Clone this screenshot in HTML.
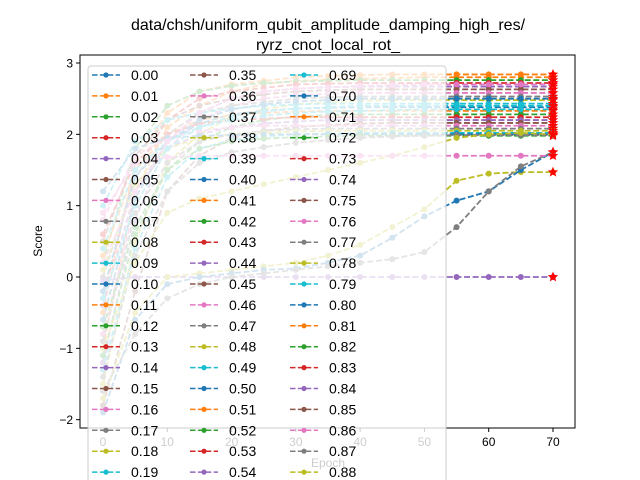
<!DOCTYPE html>
<html><head><meta charset="utf-8"><style>
body{margin:0;background:#fff;overflow:hidden}
svg{display:block;font-family:"Liberation Sans","DejaVu Sans",sans-serif}
</style></head><body>
<svg id="chart" width="640" height="480" viewBox="0 0 640 480">
<rect width="640" height="480" fill="#fff"/>
<text x="328" y="30" font-size="16" text-anchor="middle">data/chsh/uniform_qubit_amplitude_damping_high_res/</text>
<text x="328" y="50" font-size="16" text-anchor="middle">ryrz_cnot_local_rot_</text>
<g id="plot"></g>
<g id="axes"></g>
<g id="legend"></g>
</svg>
<script>
const epochs = [0,5,10,15,20,25,30,35,40,45,50,55,60,65,70];
const xTicks = [0,10,20,30,40,50,60,70];
const yTicks = [-2,-1,0,1,2,3];
const seriesValues = [
 [-0.5,1.6,2.3,2.6,2.7,2.75,2.8,2.82,2.83,2.84,2.84,2.84,2.84,2.84,2.84],
 [-1.0,1.2,2.1,2.4,2.6,2.7,2.75,2.77,2.78,2.79,2.8,2.8,2.8,2.8,2.8],
 [0.2,1.8,2.4,2.6,2.68,2.72,2.74,2.75,2.76,2.76,2.76,2.76,2.76,2.76,2.76],
 [-0.3,1.5,2.2,2.5,2.6,2.65,2.7,2.71,2.72,2.72,2.72,2.72,2.72,2.72,2.72],
 [-1.2,0.8,1.9,2.3,2.5,2.6,2.64,2.66,2.67,2.67,2.67,2.67,2.67,2.67,2.67],
 [0.5,1.7,2.2,2.4,2.5,2.56,2.6,2.62,2.63,2.63,2.63,2.63,2.63,2.63,2.63],
 [-0.8,1.0,1.8,2.2,2.4,2.5,2.55,2.57,2.58,2.58,2.58,2.58,2.58,2.58,2.58],
 [0.0,1.4,2.0,2.3,2.4,2.45,2.5,2.52,2.53,2.53,2.53,2.53,2.53,2.53,2.53],
 [-1.5,0.5,1.6,2.0,2.25,2.35,2.42,2.45,2.47,2.48,2.48,2.48,2.48,2.48,2.48],
 [1.0,1.9,2.2,2.3,2.36,2.4,2.42,2.43,2.43,2.43,2.43,2.43,2.43,2.43,2.43],
 [-0.6,1.1,1.9,2.15,2.28,2.33,2.36,2.37,2.38,2.38,2.38,2.38,2.38,2.38,2.38],
 [0.3,1.5,2.0,2.2,2.27,2.3,2.32,2.33,2.33,2.33,2.33,2.33,2.33,2.33,2.33],
 [-1.1,0.6,1.5,1.9,2.1,2.2,2.25,2.27,2.28,2.28,2.28,2.28,2.28,2.28,2.28],
 [0.6,1.6,2.0,2.15,2.2,2.22,2.24,2.24,2.24,2.24,2.24,2.24,2.24,2.24,2.24],
 [-0.4,1.2,1.8,2.0,2.1,2.15,2.18,2.2,2.2,2.2,2.2,2.2,2.2,2.2,2.2],
 [-1.8,-0.2,1.2,1.7,1.95,2.05,2.1,2.13,2.15,2.16,2.16,2.16,2.16,2.16,2.16],
 [0.8,1.7,1.95,2.05,2.1,2.12,2.12,2.12,2.12,2.12,2.12,2.12,2.12,2.12,2.12],
 [-0.9,0.9,1.6,1.9,2.0,2.05,2.07,2.08,2.08,2.08,2.08,2.08,2.08,2.08,2.08],
 [0.1,1.3,1.8,1.95,2.0,2.02,2.04,2.05,2.05,2.05,2.05,2.05,2.05,2.05,2.05],
 [-1.3,0.4,1.4,1.8,1.92,1.97,2.0,2.01,2.02,2.02,2.02,2.02,2.02,2.02,2.02],
 [1.2,1.8,1.95,1.98,1.99,2.0,2.0,2.0,2.0,2.0,2.0,2.0,2.0,2.0,2.0],
 [-0.7,0.7,1.5,1.8,1.9,1.94,1.96,1.97,1.98,1.98,1.98,1.98,1.98,1.98,1.98],
 [0.4,1.5,1.9,2.1,2.2,2.26,2.3,2.32,2.33,2.34,2.35,2.35,2.35,2.35,2.35],
 [-0.2,1.4,1.9,2.2,2.35,2.42,2.46,2.48,2.5,2.5,2.5,2.5,2.5,2.5,2.5],
 [-1.4,0.3,1.2,1.6,1.75,1.82,1.88,1.92,1.95,1.97,1.98,1.99,1.99,1.99,1.99],
 [-0.05,0,0,0,0,0,0,0,0,0,0,0,0,0,0],
 [-1.7,-0.5,0.0,0.05,0.1,0.15,0.2,0.3,0.45,0.7,0.95,1.35,1.45,1.47,1.47],
 [-1.9,-0.6,-0.1,0.0,0.05,0.1,0.12,0.2,0.3,0.55,0.85,1.07,1.2,1.5,1.75],
 [-1.6,-0.8,-0.3,-0.1,0.0,0.05,0.1,0.15,0.2,0.25,0.35,0.7,1.2,1.55,1.75],
 [-1.0,0.2,0.9,1.1,1.2,1.3,1.4,1.5,1.6,1.7,1.82,1.95,2.0,2.02,2.0],
 [0.9,1.6,1.68,1.7,1.7,1.7,1.7,1.7,1.7,1.7,1.7,1.7,1.7,1.7,1.7],
 [-0.3,1.0,1.8,2.1,2.25,2.32,2.36,2.38,2.4,2.4,2.4,2.4,2.4,2.4,2.4],
 [0.2,1.2,1.9,2.3,2.5,2.6,2.64,2.66,2.68,2.69,2.7,2.7,2.7,2.7,2.7]
];
const seriesColorIndex = [1,1,2,3,4,5,6,7,8,9,0,1,2,3,4,5,6,7,8,9,0,2,9,0,7,4,8,0,7,8,6,9,6];
const legendLabels = [];
for (let i = 0; i <= 100; i++) legendLabels.push((i/100).toFixed(2));
const colors = ['#1f77b4','#ff7f0e','#2ca02c','#d62728','#9467bd','#8c564b','#e377c2','#7f7f7f','#bcbd22','#17becf'];
const L=80,R=575,T=55,B=428;
const xs = e => 103 + e*(553-103)/70;
const ys = v => 277 - v*(277-63)/3;
const NS='http://www.w3.org/2000/svg';
function mk(tag, attrs, parent){const el=document.createElementNS(NS,tag);for(const k in attrs)el.setAttribute(k,attrs[k]);parent.appendChild(el);return el;}
const plot=document.getElementById('plot');
const cp=mk('clipPath',{id:'clip'},plot);
mk('rect',{x:L,y:T,width:R-L,height:B-T},cp);
const g=mk('g',{'clip-path':'url(#clip)'},plot);
seriesValues.forEach((vals,i)=>{
  const c=colors[seriesColorIndex[i]];
  const pts=vals.map((v,j)=>xs(epochs[j])+','+ys(v)).join(' ');
  const line=mk('polyline',{points:pts,fill:'none',stroke:c,'stroke-width':1.8,'stroke-dasharray':'6,2.6'},g);
  
  
  vals.forEach((v,j)=>{
    const m=mk('circle',{cx:xs(epochs[j]),cy:ys(v),r:3,fill:c},g);
    
    
  });
  const fx=xs(epochs[epochs.length-1]),fy=ys(vals[vals.length-1]);
  let d='';for(let k=0;k<10;k++){const r=k%2?2.4:5.5;const a=-Math.PI/2+k*Math.PI/5;d+=(k?'L':'M')+(fx+r*Math.cos(a))+','+(fy+r*Math.sin(a));}
  const s=mk('path',{d:d+'Z',fill:'red'},g);
  
  
});
const axes=document.getElementById('axes');
mk('rect',{x:L,y:T,width:R-L,height:B-T,fill:'none',stroke:'#000','stroke-width':1},axes);
xTicks.forEach(t=>{const x=xs(t);mk('line',{x1:x,x2:x,y1:B,y2:B+4,stroke:'#000'},axes);
  const tx=mk('text',{x:x,y:B+18,'font-size':12,'text-anchor':'middle'},axes);tx.textContent=t;
  });
yTicks.forEach(t=>{const y=ys(t);mk('line',{x1:L-4,x2:L,y1:y,y2:y,stroke:'#000'},axes);
  const tx=mk('text',{x:L-7,y:y+4.5,'font-size':12,'text-anchor':'end'},axes);tx.textContent=t<0?'\u2212'+(-t):t;
  });
const xl=mk('text',{x:328,y:467,'font-size':12,'text-anchor':'middle'},axes);xl.textContent='Epoch';

const yl=mk('text',{x:42,y:241,'font-size':12,'text-anchor':'middle',transform:'rotate(-90 42 241)'},axes);yl.textContent='Score';

const leg=document.getElementById('legend');
mk('rect',{x:88,y:66,width:358,height:420,rx:3,fill:'#fff','fill-opacity':0.8,stroke:'#ccc'},leg);
const colStarts=[0,35,69];const colX=[92,190,290];
legendLabels.forEach((lab,i)=>{
  let col=i>=69?2:(i>=35?1:0);const row=i-colStarts[col];const y=75+row*20.9;
  if(y>474)return;
  const c=colors[i%10];const x0=colX[col];
  const e=mk('g',{},leg);
  
  
  mk('line',{x1:x0,x2:x0+28,y1:y,y2:y,stroke:c,'stroke-width':1.5,'stroke-dasharray':'5.5,2.4'},e);
  mk('circle',{cx:x0+14,cy:y,r:2.6,fill:c},e);
  const t=mk('text',{x:x0+39,y:Math.min(y+5,479),'font-size':14},e);t.textContent=lab;
});
</script>
</body></html>
